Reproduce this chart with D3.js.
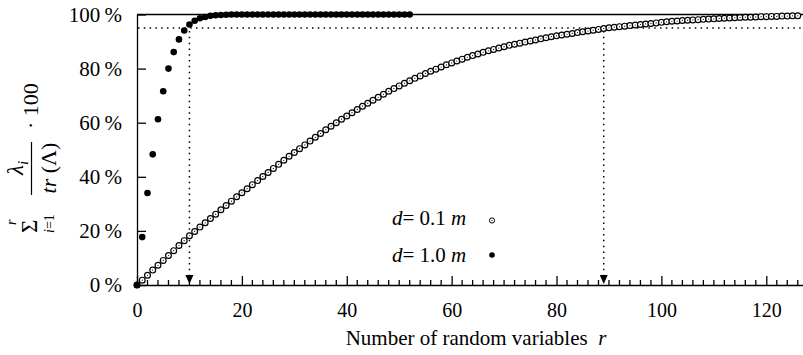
<!DOCTYPE html>
<html>
<head>
<meta charset="utf-8">
<script src="https://cdn.jsdelivr.net/npm/d3@7"></script>
<style>
  body { margin: 0; background: #fff; }
  svg { display: block; font-family: "Liberation Serif", "Times New Roman", serif; }
  .axis path, .axis line { stroke: #000; stroke-width: 1.3; }
  .axis text { font-size: 20px; fill: #000; font-family: "Liberation Serif", serif; }
</style>
</head>
<body>
<div id="chart"></div>
<script>
// cumulative explained variance [%] per number of random variables r
const d01 = [0, 1.8, 3.6, 5.5, 7.3, 9.1, 10.9, 12.7, 14.6, 16.4, 18.2,
  19.8, 21.4, 23.0, 24.6, 26.2, 27.8, 29.4, 31.0, 32.6, 34.1,
  35.6, 37.1, 38.6, 40.1, 41.6, 43.1, 44.6, 46.1, 47.6, 49.0,
  50.4, 51.8, 53.2, 54.6, 56.0, 57.4, 58.7, 60.0, 61.3, 62.5,
  63.7, 64.9, 66.1, 67.2, 68.3, 69.4, 70.5, 71.6, 72.6, 73.6,
  74.6, 75.5, 76.4, 77.3, 78.2, 79.0, 79.8, 80.6, 81.4, 82.1,
  82.8, 83.5, 84.2, 84.8, 85.4, 86.0, 86.6, 87.1, 87.6, 88.1,
  88.6, 89.0, 89.4, 89.8, 90.2, 90.6, 91.0, 91.4, 91.8, 92.1,
  92.4, 92.7, 93.0, 93.3, 93.6, 93.9, 94.2, 94.5, 94.8, 95.1,
  95.3, 95.5, 95.7, 95.9, 96.1, 96.3, 96.5, 96.7, 96.9, 97.1,
  97.3, 97.5, 97.6, 97.8, 97.9, 98.0, 98.1, 98.2, 98.3, 98.4,
  98.5, 98.6, 98.7, 98.8, 98.9, 99.0, 99.0, 99.1, 99.2, 99.2,
  99.3, 99.3, 99.4, 99.4, 99.5, 99.5];
const d10 = [0, 17.7, 34.0, 48.3, 61.3, 71.6, 80.0, 86.1, 90.8, 94.1, 96.3,
  97.7, 98.6, 99.1, 99.5, 99.7, 99.8, 99.9, 100, 100, 100,
  100, 100, 100, 100, 100, 100, 100, 100, 100, 100,
  100, 100, 100, 100, 100, 100, 100, 100, 100, 100,
  100, 100, 100, 100, 100, 100, 100, 100, 100, 100,
  100, 100];
const xTicks = [0, 20, 40, 60, 80, 100, 120];
const xMinor = d3.range(2, 127, 2).filter(d => d % 20 !== 0);
const yTicks = [0, 20, 40, 60, 80, 100];
const threshold = 95;
const markers = [10, 89];   // r needed for 95 % (d = 1.0 m, d = 0.1 m)

const width = 803, height = 355;
const svg = d3.select("#chart").append("svg")
  .attr("width", width).attr("height", height);

const x = d3.scaleLinear().domain([0, 127]).range([137, 803]);
const y = d3.scaleLinear().domain([0, 100]).range([285, 14.5]);

// minor x ticks every 2
svg.append("g").selectAll("line").data(xMinor).enter().append("line")
  .attr("x1", d => x(d)).attr("x2", d => x(d))
  .attr("y1", y(0)).attr("y2", y(0) - 5)
  .attr("stroke", "#000").attr("stroke-width", 1.3);

svg.append("g").attr("class", "axis")
  .attr("transform", "translate(0," + y(0) + ")")
  .call(d3.axisBottom(x).tickValues(xTicks).tickSize(-9).tickSizeOuter(0).tickPadding(18));

svg.append("g").attr("class", "axis")
  .attr("transform", "translate(" + x(0) + ",0)")
  .call(d3.axisLeft(y).tickValues(yTicks).tickSize(-9).tickSizeOuter(0).tickPadding(15)
    .tickFormat(d => d + "\u2009%"))
  .call(g => g.selectAll("text").attr("font-size", 21).style("font-size", "21px"));

// top frame line
svg.append("line")
  .attr("x1", x(0)).attr("x2", width)
  .attr("y1", y(100)).attr("y2", y(100))
  .attr("stroke", "#000").attr("stroke-width", 1.3);

// 95 % threshold and marker arrows
const dots = "1.5,4.3";
svg.append("line")
  .attr("x1", x(0) + 1).attr("x2", width)
  .attr("y1", y(threshold)).attr("y2", y(threshold))
  .attr("stroke", "#000").attr("stroke-width", 1.5).attr("stroke-dasharray", dots);

markers.forEach(m => {
  svg.append("line")
    .attr("x1", x(m)).attr("x2", x(m))
    .attr("y1", y(threshold) + 3).attr("y2", y(0) - 8)
    .attr("stroke", "#000").attr("stroke-width", 1.5).attr("stroke-dasharray", dots);
  svg.append("path")
    .attr("d", `M${x(m) - 4},${y(0) - 10}L${x(m) + 4},${y(0) - 10}L${x(m)},${y(0) - 1}Z`)
    .attr("fill", "#000");
});

// d = 0.1 m : open circles with center dot
const open = svg.append("g");
open.selectAll("circle.o").data(d01).enter().append("circle")
  .attr("cx", (d, i) => x(i)).attr("cy", d => y(d)).attr("r", 2.9)
  .attr("fill", "#fff").attr("stroke", "#000").attr("stroke-width", 1.2);
open.selectAll("circle.c").data(d01).enter().append("circle")
  .attr("cx", (d, i) => x(i)).attr("cy", d => y(d)).attr("r", 0.6)
  .attr("fill", "#000");

// d = 1.0 m : filled circles
svg.append("g").selectAll("circle").data(d10).enter().append("circle")
  .attr("cx", (d, i) => x(i)).attr("cy", d => y(d)).attr("r", 3.3)
  .attr("fill", "#000");

// legend
const legend = [["0.1", false, 225], ["1.0", true, 262]];
legend.forEach(([v, filled, by]) => {
  const t = svg.append("text").attr("x", 392).attr("y", by)
    .attr("font-size", 21).attr("fill", "#000");
  t.append("tspan").attr("font-style", "italic").text("d");
  t.append("tspan").text("= " + v + " ");
  t.append("tspan").attr("font-style", "italic").text("m");
  if (filled) {
    svg.append("circle").attr("cx", 492).attr("cy", by - 7).attr("r", 2.8).attr("fill", "#000");
  } else {
    svg.append("circle").attr("cx", 492).attr("cy", by - 4.5).attr("r", 2.6)
      .attr("fill", "#fff").attr("stroke", "#000").attr("stroke-width", 1);
    svg.append("circle").attr("cx", 492).attr("cy", by - 4.5).attr("r", 0.6).attr("fill", "#000");
  }
});

// x axis title
const xt = svg.append("text").attr("x", 476).attr("y", 345)
  .attr("text-anchor", "middle").attr("font-size", 21).attr("fill", "#000");
xt.append("tspan").text("Number of random variables\u2002");
xt.append("tspan").attr("font-style", "italic").text("r");

// y axis title: sum_{i=1}^{r} lambda_i / tr(Lambda) * 100
const yl = svg.append("g").attr("transform", "translate(0,235) rotate(-90)")
  .attr("fill", "#000");
yl.append("text").attr("x", 2).attr("y", 37).attr("font-size", 23).text("\u03A3");
yl.append("text").attr("x", 2).attr("y", 54).attr("font-size", 14)
  .html('<tspan font-style="italic">i</tspan>=1');
yl.append("text").attr("x", 10).attr("y", 16).attr("font-size", 14)
  .attr("font-style", "italic").text("r");
yl.append("line").attr("x1", 40).attr("x2", 93).attr("y1", 31.5).attr("y2", 31.5)
  .attr("stroke", "#000").attr("stroke-width", 1.2);
yl.append("text").attr("x", 67).attr("y", 23).attr("font-size", 23).attr("text-anchor", "middle")
  .html('<tspan font-style="italic">\u03BB</tspan><tspan font-size="15" font-style="italic" dy="5">i</tspan>');
yl.append("text").attr("x", 67).attr("y", 56).attr("font-size", 22).attr("text-anchor", "middle")
  .html('<tspan font-style="italic">tr</tspan> (\u039B)');
yl.append("text").attr("x", 106).attr("y", 38).attr("font-size", 22).text("\u00B7 100");
</script>
</body>
</html>
